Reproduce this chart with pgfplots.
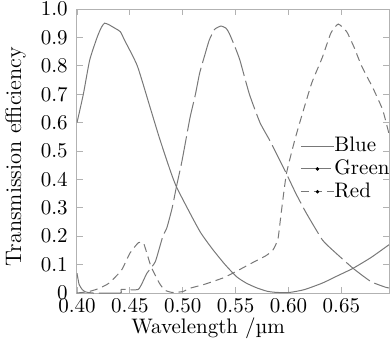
\documentclass[border=0pt]{standalone}
\usepackage{pgfplots}
\pgfplotsset{compat=1.18}
\definecolor{curve}{gray}{0.47}
\definecolor{frame}{gray}{0.7}
\begin{document}
\fontsize{10.5}{12}\selectfont
\begin{tikzpicture}
\begin{axis}[
  scale only axis, width=156pt, height=142pt,
  xmin=0.4, xmax=0.695, ymin=0, ymax=1.0,
  axis line style={frame, line width=0.5pt},
  tick style={frame, line width=0.4pt},
  tick align=inside, major tick length=3pt,
  xtick={0.40,0.45,0.50,0.55,0.60,0.65},
  xticklabels={0.40,0.45,0.50,0.55,0.60,0.65},
  ytick={0,0.1,0.2,0.3,0.4,0.5,0.6,0.7,0.8,0.9,1.0},
  yticklabels={0,0.1,0.2,0.3,0.4,0.5,0.6,0.7,0.8,0.9,1.0},
  ticklabel style={font=\fontsize{10.5}{12}\selectfont, black},
  yticklabel style={xshift=-1pt},
  xticklabel style={yshift=1pt},
  xlabel={Wavelength /\textmu m},
  ylabel={Transmission efficiency},
  xlabel style={font=\fontsize{10.5}{12}\selectfont, at={(axis description cs:0.42,0)}, anchor=north, yshift=-8.5pt},
  ylabel style={font=\fontsize{11.2}{13}\selectfont, at={(axis description cs:-0.141,0.48)}, anchor=south},
  legend style={at={(rel axis cs:0.715,0.557)}, anchor=north west, draw=none, fill=none,
    font=\fontsize{10.5}{12}\selectfont, inner sep=0pt, row sep=0.5pt,
    nodes={inner xsep=0pt, inner ysep=1pt}},
  legend cell align=left,
  clip=true,
]
\addplot[curve, line width=0.5pt, smooth, tension=0.35, legend image code/.code={\draw[curve,line width=0.5pt] (0pt,0pt) -- (16.5pt,0pt);}] coordinates {
(0.400,0.60) (0.406,0.70) (0.412,0.82) (0.419,0.90) (0.423,0.935) (0.426,0.95)
(0.430,0.945) (0.436,0.932) (0.441,0.92) (0.445,0.89) (0.457,0.80) (0.469,0.655)
(0.478,0.545) (0.488,0.433) (0.494,0.374) (0.507,0.280) (0.517,0.212) (0.528,0.155)
(0.540,0.10) (0.551,0.057) (0.560,0.035) (0.570,0.018) (0.580,0.006) (0.589,0.002)
(0.601,0.002) (0.615,0.012) (0.632,0.035) (0.646,0.060) (0.661,0.087) (0.678,0.125) (0.695,0.17)
};
\addlegendentry{Blue}
\addplot[curve, line width=0.5pt, dash pattern=on 15pt off 2.5pt, smooth, tension=0.3,
  legend image code/.code={\draw[curve,line width=0.5pt] (0pt,0pt) -- (16.5pt,0pt); \fill[black] (8.25pt,0pt) circle (0.6pt);}] coordinates {
(0.400,0.07) (0.402,0.03) (0.405,0.012) (0.408,0.004) (0.415,0.0) (0.441,0.0)
(0.442,0.013) (0.458,0.013) (0.466,0.069) (0.474,0.11) (0.481,0.198) (0.485,0.23)
(0.490,0.30) (0.494,0.374) (0.499,0.46) (0.503,0.54) (0.507,0.62) (0.512,0.70) (0.516,0.775)
(0.521,0.84) (0.525,0.89) (0.530,0.928) (0.536,0.94) (0.541,0.932) (0.544,0.914)
(0.549,0.87) (0.554,0.82) (0.563,0.70) (0.573,0.60) (0.582,0.539) (0.590,0.48)
(0.598,0.42) (0.607,0.35) (0.617,0.28) (0.632,0.187) (0.642,0.15) (0.661,0.087)
(0.678,0.04) (0.692,0.02) (0.695,0.018)
};
\addlegendentry{Green}
\addplot[curve, line width=0.5pt, dash pattern=on 4pt off 2.5pt, smooth, tension=0.3,
  legend image code/.code={\draw[curve,line width=0.5pt,dash pattern=on 4pt off 2.5pt] (0pt,0pt) -- (16.5pt,0pt); \fill[black] (8.25pt,0pt) circle (0.6pt);}] coordinates {
(0.400,0.0) (0.411,0.005) (0.420,0.015) (0.430,0.034) (0.442,0.08) (0.450,0.14)
(0.458,0.177) (0.463,0.175) (0.470,0.093) (0.478,0.034) (0.483,0.01) (0.490,0.002)
(0.500,0.005) (0.507,0.017) (0.520,0.030) (0.538,0.053) (0.550,0.075) (0.565,0.105)
(0.578,0.13) (0.585,0.15) (0.590,0.19) (0.593,0.28) (0.598,0.42) (0.606,0.54)
(0.613,0.63) (0.622,0.74) (0.632,0.83) (0.640,0.915) (0.647,0.947) (0.655,0.92)
(0.662,0.865) (0.669,0.80) (0.680,0.72) (0.689,0.645) (0.695,0.56)
};
\addlegendentry{Red}
\end{axis}
\pgfresetboundingbox
\path (current axis.south west) ++(-38.5pt,-23pt) rectangle ++(195pt,169.5pt);
\end{tikzpicture}
\end{document}
